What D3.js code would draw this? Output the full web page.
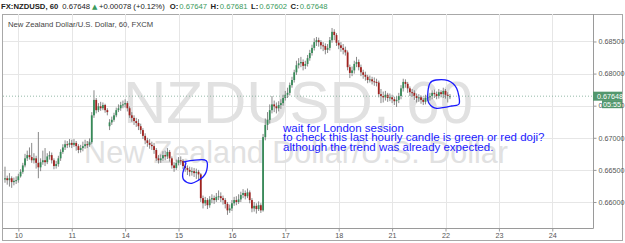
<!DOCTYPE html>
<html>
<head>
<meta charset="utf-8">
<script src="https://cdn.jsdelivr.net/npm/d3@7"></script>
<style>
  html, body { margin: 0; padding: 0; background: #fff; }
  svg { display: block; font-family: "Liberation Sans", Arial, sans-serif; }
</style>
</head>
<body>
<svg id="chart" width="625" height="243"></svg>
<script>
// hourly NZDUSD candles (index = hour slot)
var opens = [
  0.6635,0.6637,0.6634,0.6637,0.6631,0.6633,0.6634,0.6640,0.6647,0.6657,
  0.6668,0.6673,0.6670,0.6665,0.6668,0.6661,0.6654,0.6662,0.6665,0.6662,
  0.6671,0.6673,0.6665,0.6656,0.6659,0.6668,0.6678,0.6685,0.6690,0.6689,
  0.6692,0.6689,0.6692,0.6687,0.6681,0.6684,0.6687,0.6690,0.6689,0.6693,
  0.6735,0.6759,0.6743,0.6749,0.6746,0.6751,0.6743,0.6718,0.6724,0.6728,
  0.6735,0.6743,0.6746,0.6751,0.6752,0.6754,0.6746,0.6735,0.6731,0.6726,
  0.6723,0.6718,0.6712,0.6703,0.6696,0.6692,0.6689,0.6687,0.6681,0.6668,
  0.6665,0.6668,0.6673,0.6671,0.6678,0.6668,0.6657,0.6653,0.6661,0.6665,
  0.6664,0.6656,0.6653,0.6650,0.6647,0.6648,0.6645,0.6647,0.6643,0.6606,
  0.6598,0.6603,0.6595,0.6604,0.6606,0.6603,0.6608,0.6609,0.6606,0.6603,
  0.6597,0.6587,0.6590,0.6598,0.6603,0.6600,0.6604,0.6611,0.6614,0.6609,
  0.6615,0.6603,0.6590,0.6594,0.6589,0.6595,0.6587,0.6701,0.6720,0.6728,
  0.6743,0.6752,0.6749,0.6746,0.6751,0.6754,0.6762,0.6767,0.6770,0.6782,
  0.6790,0.6802,0.6813,0.6816,0.6818,0.6812,0.6815,0.6824,0.6832,0.6840,
  0.6849,0.6852,0.6849,0.6844,0.6843,0.6837,0.6840,0.6852,0.6865,0.6860,
  0.6848,0.6844,0.6840,0.6837,0.6833,0.6810,0.6801,0.6805,0.6815,0.6818,
  0.6810,0.6802,0.6798,0.6795,0.6790,0.6791,0.6788,0.6787,0.6786,0.6768,
  0.6765,0.6763,0.6767,0.6762,0.6763,0.6760,0.6757,0.6759,0.6765,0.6777,
  0.6787,0.6784,0.6777,0.6771,0.6770,0.6765,0.6762,0.6763,0.6759,0.6756,
  0.6762,0.6763,0.6765,0.6770,0.6768,0.6765,0.6771,0.6768,0.6773,0.6767,
  0.67647
];
var highs = [
  0.6655,0.6641,0.6645,0.6640,0.6638,0.6640,0.6644,0.6651,0.6661,0.6675,
  0.6680,0.6685,0.6692,0.6676,0.6672,0.6709,0.6668,0.6680,0.6684,0.6676,
  0.6679,0.6677,0.6668,0.6664,0.6672,0.6682,0.6690,0.6696,0.6695,0.6698,
  0.6697,0.6698,0.6695,0.6690,0.6689,0.6694,0.6697,0.6695,0.6699,0.6740,
  0.6774,0.6762,0.6754,0.6756,0.6755,0.6753,0.6746,0.6729,0.6733,0.6739,
  0.6747,0.6752,0.6756,0.6758,0.6760,0.6757,0.6749,0.6740,0.6735,0.6731,
  0.6729,0.6722,0.6715,0.6707,0.6700,0.6698,0.6694,0.6692,0.6684,0.6673,
  0.6674,0.6679,0.6680,0.6684,0.6681,0.6671,0.6662,0.6666,0.6670,0.6671,
  0.6667,0.6660,0.6657,0.6655,0.6654,0.6653,0.6652,0.6650,0.6645,0.6610,
  0.6608,0.6606,0.6609,0.6612,0.6610,0.6614,0.6618,0.6615,0.6610,0.6606,
  0.6600,0.6596,0.6603,0.6608,0.6609,0.6612,0.6616,0.6620,0.6618,0.6621,
  0.6618,0.6606,0.6600,0.6598,0.6601,0.6598,0.6706,0.6730,0.6740,0.6752,
  0.6765,0.6758,0.6755,0.6757,0.6760,0.6767,0.6773,0.6778,0.6786,0.6795,
  0.6806,0.6820,0.6824,0.6826,0.6822,0.6820,0.6829,0.6837,0.6845,0.6855,
  0.6857,0.6856,0.6852,0.6849,0.6847,0.6846,0.6857,0.6871,0.6869,0.6863,
  0.6852,0.6849,0.6846,0.6842,0.6836,0.6814,0.6811,0.6820,0.6826,0.6822,
  0.6814,0.6806,0.6803,0.6798,0.6797,0.6795,0.6794,0.6792,0.6789,0.6776,
  0.6772,0.6773,0.6770,0.6769,0.6767,0.6764,0.6765,0.6770,0.6782,0.6792,
  0.6791,0.6787,0.6780,0.6776,0.6774,0.6769,0.6768,0.6766,0.6762,0.6767,
  0.6768,0.6770,0.6774,0.6775,0.6772,0.6776,0.6774,0.6778,0.6776,0.6771,
  0.67681
];
var lows = [
  0.6630,0.6627,0.6624,0.6622,0.6626,0.6628,0.6630,0.6638,0.6644,0.6654,
  0.6664,0.6666,0.6661,0.6660,0.6652,0.6637,0.6648,0.6658,0.6656,0.6659,
  0.6666,0.6660,0.6651,0.6652,0.6655,0.6664,0.6675,0.6681,0.6684,0.6685,
  0.6684,0.6686,0.6680,0.6676,0.6677,0.6679,0.6683,0.6684,0.6686,0.6690,
  0.6731,0.6738,0.6740,0.6742,0.6743,0.6739,0.6735,0.6712,0.6720,0.6725,
  0.6732,0.6740,0.6742,0.6746,0.6747,0.6741,0.6731,0.6725,0.6720,0.6717,
  0.6712,0.6706,0.6698,0.6690,0.6686,0.6683,0.6681,0.6675,0.6664,0.6660,
  0.6661,0.6664,0.6665,0.6667,0.6663,0.6652,0.6647,0.6650,0.6657,0.6658,
  0.6651,0.6647,0.6642,0.6640,0.6641,0.6639,0.6636,0.6634,0.6600,0.6590,
  0.6594,0.6589,0.6591,0.6598,0.6597,0.6600,0.6603,0.6600,0.6596,0.6590,
  0.6580,0.6583,0.6586,0.6594,0.6595,0.6597,0.6600,0.6606,0.6604,0.6606,
  0.6598,0.6584,0.6585,0.6582,0.6586,0.6583,0.6585,0.6696,0.6712,0.6722,
  0.6738,0.6740,0.6738,0.6741,0.6745,0.6750,0.6758,0.6762,0.6766,0.6778,
  0.6786,0.6798,0.6808,0.6810,0.6805,0.6807,0.6811,0.6820,0.6828,0.6836,
  0.6843,0.6842,0.6838,0.6835,0.6830,0.6832,0.6836,0.6848,0.6852,0.6843,
  0.6838,0.6834,0.6830,0.6828,0.6805,0.6793,0.6796,0.6800,0.6810,0.6805,
  0.6796,0.6792,0.6789,0.6785,0.6786,0.6783,0.6781,0.6780,0.6763,0.6754,
  0.6755,0.6758,0.6756,0.6757,0.6754,0.6751,0.6748,0.6754,0.6760,0.6772,
  0.6778,0.6770,0.6765,0.6764,0.6759,0.6755,0.6756,0.6753,0.6751,0.6752,
  0.6757,0.6758,0.6760,0.6762,0.6760,0.6761,0.6763,0.6762,0.6761,0.6755,
  0.67602
];
var closes = [
  0.6637,0.6634,0.6637,0.6631,0.6633,0.6634,0.6640,0.6647,0.6657,0.6668,
  0.6673,0.6670,0.6665,0.6668,0.6661,0.6654,0.6662,0.6665,0.6662,0.6671,
  0.6673,0.6665,0.6656,0.6659,0.6668,0.6678,0.6685,0.6690,0.6689,0.6692,
  0.6689,0.6692,0.6687,0.6681,0.6684,0.6687,0.6690,0.6689,0.6693,0.6735,
  0.6759,0.6743,0.6749,0.6746,0.6751,0.6743,0.6740,0.6724,0.6728,0.6735,
  0.6743,0.6746,0.6751,0.6752,0.6754,0.6746,0.6735,0.6731,0.6726,0.6723,
  0.6718,0.6712,0.6703,0.6696,0.6692,0.6689,0.6687,0.6681,0.6668,0.6665,
  0.6668,0.6673,0.6671,0.6678,0.6668,0.6657,0.6653,0.6661,0.6665,0.6664,
  0.6656,0.6653,0.6650,0.6647,0.6648,0.6645,0.6647,0.6643,0.6606,0.6598,
  0.6603,0.6595,0.6604,0.6606,0.6603,0.6608,0.6609,0.6606,0.6603,0.6597,
  0.6587,0.6590,0.6598,0.6603,0.6600,0.6604,0.6611,0.6614,0.6609,0.6615,
  0.6603,0.6590,0.6594,0.6589,0.6595,0.6587,0.6701,0.6720,0.6728,0.6743,
  0.6752,0.6749,0.6746,0.6751,0.6754,0.6762,0.6767,0.6770,0.6782,0.6790,
  0.6802,0.6813,0.6816,0.6818,0.6812,0.6815,0.6824,0.6832,0.6840,0.6849,
  0.6852,0.6849,0.6844,0.6843,0.6837,0.6840,0.6852,0.6865,0.6860,0.6848,
  0.6844,0.6840,0.6837,0.6833,0.6810,0.6801,0.6805,0.6815,0.6818,0.6810,
  0.6802,0.6798,0.6795,0.6790,0.6791,0.6788,0.6787,0.6786,0.6768,0.6765,
  0.6763,0.6767,0.6762,0.6763,0.6760,0.6757,0.6759,0.6765,0.6777,0.6787,
  0.6784,0.6777,0.6771,0.6770,0.6765,0.6762,0.6763,0.6759,0.6756,0.6762,
  0.6763,0.6765,0.6770,0.6768,0.6765,0.6771,0.6768,0.6773,0.6767,0.6765,
  0.67648
];

var dayTicks = [6, 30, 54, 78, 102, 126, 150, 174, 198, 222, 246];
var dayLabels = ['10', '11', '14', '15', '16', '17', '18', '21', '22', '23', '24'];
var priceTicks = [0.660, 0.665, 0.670, 0.675, 0.680, 0.685];

var symbol = 'FX:NZDUSD, 60';
var lastPrice = 0.67648;
var change = '+0.00078 (+0.12%)';
var ohlcNames = ['O:', 'H:', 'L:', 'C:'];
var ohlcValues = [0.67647, 0.67681, 0.67602, 0.67648];
var countdown = '05:55';
var title = 'New Zealand Dollar/U.S. Dollar, 60, FXCM';
var watermark = ['NZDUSD, 60', 'New Zealand Dollar/U.S. Dollar'];
var notes = [
  'wait for London session',
  'to check this last hourly candle is green or red doji?',
  'although the trend was already expected.'
];
// hand drawn rings, as [hour index, price]
var ringA = [[80.9, 0.66628], [89.9, 0.66654], [90.9, 0.66540], [89.1, 0.66394],
  [83.9, 0.66291], [80.4, 0.66343], [79.9, 0.66447], [81.3, 0.66603]];
var ringB = [[191.0, 0.67849], [193.7, 0.67900], [199.2, 0.67889], [203.0, 0.67771],
  [204.2, 0.67537], [200.8, 0.67495], [194.0, 0.67459], [190.6, 0.67537], [190.0, 0.67667]];

var upColor = '#378a58';
var downColor = '#a0221f';
var labelGreen = '#53976d';

var svg = d3.select('#chart');
var plot = {left: 3, right: 593, top: 14, bottom: 228};

var x = d3.scaleLinear().domain([-0.9, 264.3]).range([plot.left, plot.right]);
var y = d3.scaleLinear().domain([0.65595, 0.68928]).range([plot.bottom, plot.top]);

svg.append('defs').append('clipPath').attr('id', 'plotClip')
  .append('rect')
  .attr('x', plot.left).attr('y', plot.top)
  .attr('width', plot.right - plot.left).attr('height', plot.bottom - plot.top);

// outer frame
svg.append('rect')
  .attr('x', 2.5).attr('y', 14.5).attr('width', 620).attr('height', 226)
  .attr('fill', '#fff').attr('stroke', '#a8a8a8');

// grid
var grid = svg.append('g');
grid.selectAll('.hgrid').data(priceTicks).enter().append('line')
  .attr('x1', plot.left).attr('x2', plot.right)
  .attr('y1', function(d) { return Math.round(y(d)) + 0.5; })
  .attr('y2', function(d) { return Math.round(y(d)) + 0.5; })
  .attr('stroke', '#e6e6e6');
grid.selectAll('.vgrid').data(dayTicks).enter().append('line')
  .attr('x1', function(d) { return Math.round(x(d)) + 0.5; })
  .attr('x2', function(d) { return Math.round(x(d)) + 0.5; })
  .attr('y1', plot.top).attr('y2', plot.bottom)
  .attr('stroke', '#e6e6e6');

// watermark
var cx = (plot.left + plot.right) / 2;
svg.append('text').text(watermark[0])
  .attr('x', cx).attr('y', 123).attr('text-anchor', 'middle')
  .attr('font-size', 60).attr('fill', '#e1e1e1');
svg.append('text').text(watermark[1])
  .attr('x', cx - 2).attr('y', 163).attr('text-anchor', 'middle')
  .attr('font-size', 30.5).attr('fill', '#e1e1e1');

// title inside the pane
svg.append('text').text(title)
  .attr('x', 8).attr('y', 26.5)
  .attr('font-size', 7.7).attr('fill', '#444');

// candles
var candles = closes.map(function(c, i) {
  return {i: i, o: opens[i], h: highs[i], l: lows[i], c: c};
});
var cg = svg.append('g').attr('clip-path', 'url(#plotClip)');
cg.selectAll('.wick').data(candles).enter().append('line')
  .attr('class', 'wick')
  .attr('x1', function(d) { return x(d.i); })
  .attr('x2', function(d) { return x(d.i); })
  .attr('y1', function(d) { return y(d.h); })
  .attr('y2', function(d) { return y(d.l); })
  .attr('stroke', '#7c7c7c').attr('stroke-width', 0.9);
cg.selectAll('.body').data(candles).enter().append('rect')
  .attr('class', 'body')
  .attr('x', function(d) { return x(d.i) - 0.9; })
  .attr('width', 1.8)
  .attr('y', function(d) { return y(Math.max(d.o, d.c)); })
  .attr('height', function(d) { return Math.max(1, Math.abs(y(d.o) - y(d.c))); })
  .attr('fill', function(d) { return d.c >= d.o ? upColor : downColor; });

// last price line
svg.append('line')
  .attr('x1', plot.left).attr('x2', plot.right)
  .attr('y1', y(lastPrice)).attr('y2', y(lastPrice))
  .attr('stroke', '#7aa892').attr('stroke-width', 0.8).attr('stroke-dasharray', '1,2');

// pane border
svg.append('path')
  .attr('d', 'M' + (plot.right + 0.5) + ',' + plot.top + 'V' + (plot.bottom + 0.5) + 'H' + plot.left)
  .attr('fill', 'none').attr('stroke', '#9a9a9a');

// axes
var xAxis = d3.axisBottom(x).tickValues(dayTicks)
  .tickFormat(function(d, i) { return dayLabels[i]; })
  .tickSize(3).tickPadding(1);
var gx = svg.append('g').attr('transform', 'translate(0,' + (plot.bottom + 0.5) + ')').call(xAxis);
gx.select('.domain').remove();
gx.selectAll('line').attr('stroke', '#999');
gx.selectAll('text').attr('font-size', 7.2).attr('fill', '#555').attr('font-family', null);

var yAxis = d3.axisRight(y).tickValues(priceTicks)
  .tickFormat(d3.format('.5f')).tickSize(3).tickPadding(2);
var gy = svg.append('g').attr('transform', 'translate(' + (plot.right + 0.5) + ',0)').call(yAxis);
gy.select('.domain').remove();
gy.selectAll('line').attr('stroke', '#999');
gy.selectAll('text').attr('font-size', 7.2).attr('fill', '#555').attr('font-family', null);

// last price and countdown tags
var ly = y(lastPrice);
svg.append('rect').attr('x', plot.right).attr('y', ly - 4.5).attr('width', 29).attr('height', 9)
  .attr('fill', labelGreen);
svg.append('text').text(d3.format('.5f')(lastPrice))
  .attr('x', plot.right + 4).attr('y', ly + 2.6)
  .attr('font-size', 7.2).attr('fill', '#fff');
svg.append('rect').attr('x', 602).attr('y', ly + 4).attr('width', 20).attr('height', 8)
  .attr('fill', labelGreen);
svg.append('text').text(countdown)
  .attr('x', 612).attr('y', ly + 10.6).attr('text-anchor', 'middle')
  .attr('font-size', 7.2).attr('fill', '#fff');

// header line
var head = svg.append('text').attr('x', 1).attr('y', 9.2).attr('font-size', 7.7).attr('fill', '#222');
head.append('tspan').text(symbol).attr('font-weight', 'bold');
head.append('tspan').text(d3.format('.5f')(lastPrice)).attr('dx', 4);
head.append('tspan').text('\u25B2').attr('dx', 2).attr('fill', '#3a9a5c')
  .attr('font-family', 'DejaVu Sans').attr('font-size', 7);
head.append('tspan').text(change).attr('dx', 1.5);
ohlcNames.forEach(function(name, i) {
  head.append('tspan').text(name).attr('dx', i ? 3.5 : 5).attr('font-weight', 'bold');
  head.append('tspan').text(d3.format('.5f')(ohlcValues[i])).attr('dx', 1).attr('fill', '#3a9a5c');
});

// annotation
var note = svg.append('text').attr('font-size', 11.5).attr('fill', '#1a1aff');
notes.forEach(function(line, i) {
  note.append('tspan').text(line).attr('x', 283).attr('y', 131.5 + i * 9.5);
});

var ring = d3.line()
  .x(function(d) { return x(d[0]); })
  .y(function(d) { return y(d[1]); })
  .curve(d3.curveCardinalClosed.tension(0.1));
[ringA, ringB].forEach(function(pts) {
  svg.append('path').attr('d', ring(pts))
    .attr('fill', 'none').attr('stroke', '#1a1aff').attr('stroke-width', 1.3);
});
</script>
</body>
</html>
